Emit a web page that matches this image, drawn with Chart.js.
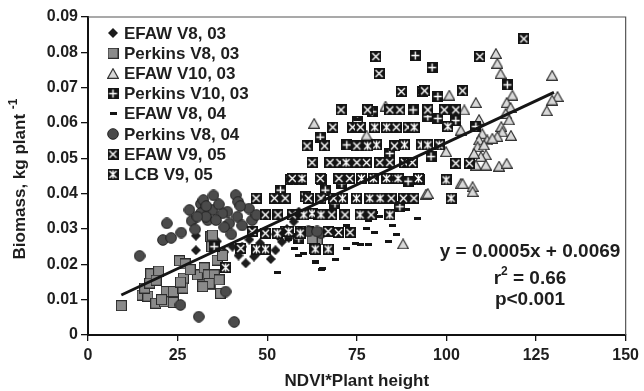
<!DOCTYPE html>
<html>
<head>
<meta charset="utf-8">
<script src="https://cdn.jsdelivr.net/npm/chart.js@4.4.1/dist/chart.umd.min.js"></script>
<style>
  html, body { margin: 0; padding: 0; background: #fff; }
  #wrap { width: 644px; height: 391px; }
</style>
</head>
<body>
<div id="wrap"><canvas id="biomassChart" width="644" height="391"></canvas></div>
<script>
// ---- data: [NDVI*height, biomass kg/plant] ----
const efawV8_03 = [[30.1,0.0281],[30.1,0.024],[44,0.0203],[46.3,0.0222],[54.1,0.0264],[57.4,0.0321],[58.8,0.0349],
  [52.3,0.024],[43,0.025],[40.3,0.025],[48,0.026],[50,0.0285],[55.5,0.030],[47.5,0.0235],[42,0.0225],[45,0.027],
  [38,0.0235],[36,0.0265],[51,0.0215],[56,0.0275],[60,0.034],[53,0.028]];

const perkinsV8_03 = [[9.3,0.0083],[15.1,0.0113],[16.7,0.011],[15.8,0.0133],[17.2,0.0147],[17.5,0.0173],[19.7,0.0181],
  [18.9,0.009],[21.3,0.0094],[21.8,0.0123],[23.8,0.0123],[23.8,0.0092],[20.5,0.010],[25.5,0.021],[27.1,0.0201],
  [26.6,0.0161],[26.5,0.0133],[25.8,0.015],[30.5,0.017],[31.9,0.0142],[32.4,0.019],[33.5,0.017],[34.3,0.0142],
  [34.3,0.0278],[34.5,0.025],[34.7,0.0283],[35.2,0.017],[33.8,0.0146],[36.6,0.0156],[32,0.0137],[37,0.0118],
  [36,0.0212],[37.5,0.0225],[63.9,0.0269],[62.5,0.0273],[28.5,0.0185],[19,0.0155]];

const efawV10_03 = [[83,0.0648],[63.1,0.0599],[77.7,0.0566],[94.3,0.0399],[87.9,0.0258],[113.8,0.0797],[114.2,0.0769],
  [115.1,0.074],[118.4,0.0679],[116.8,0.0658],[117.9,0.0644],[116.5,0.0627],[117.5,0.0609],[115.3,0.059],[115.6,0.0575],
  [114.2,0.0562],[108.2,0.0658],[100.8,0.0679],[105,0.0637],[104,0.058],[109.1,0.061],[110,0.057],[109.1,0.0552],
  [111.4,0.0552],[112.8,0.0557],[108.7,0.0533],[110.5,0.0538],[111,0.051],[109.6,0.0505],[107.7,0.0514],[108.2,0.0481],
  [111,0.0481],[114.7,0.0478],[116.8,0.0486],[104,0.0429],[107.3,0.042],[99.9,0.0519],[104.5,0.0429],[107.3,0.0406],
  [94.8,0.0401],[129.5,0.0735],[131,0.0675],[129.5,0.0665],[128,0.0635],[118,0.0565]];

const perkinsV10_03 = [[91.3,0.0791],[79.3,0.0632],[90.7,0.0637],[75.2,0.0604],[64.8,0.056],[72.2,0.0538],[84.2,0.0514],
  [70.8,0.0429],[89.3,0.0435],[66.2,0.041],[68.9,0.0372],[87,0.0363],[96,0.0757],[97.6,0.0675],[94.8,0.0618],
  [97.6,0.0613],[102.6,0.0607],[108.2,0.059],[95.7,0.0505],[117,0.0708],[35.2,0.025],[53.7,0.041],[58.8,0.0273]];

const efawV8_04 = [[53,0.0176],[58.8,0.0226],[63.4,0.0207],[65.4,0.0187],[75.2,0.0609],[80,0.0347],[81.4,0.0335],
  [78.2,0.0325],[88.8,0.0356],[66.2,0.0281],[77.7,0.0302],[74.5,0.026],[75.9,0.0255],[78.2,0.0255],[83.7,0.0266],
  [63.4,0.0205],[65.2,0.0186],[60,0.0232],[70,0.0285],[72,0.031],[56,0.027],[69,0.0215],[72,0.0245],[80,0.029],
  [85,0.031],[92,0.033],[62,0.0305],[67.5,0.0335],[57.5,0.0245],[86,0.0285]];

const perkinsV8_04 = [[14.4,0.0224],[22,0.0316],[20.9,0.0269],[23.2,0.0275],[26,0.029],[28.3,0.0354],[28.9,0.0323],
  [29.9,0.0299],[31.5,0.0371],[32.2,0.0382],[31.5,0.0345],[33.4,0.0325],[25.8,0.0085],[30.9,0.0052],[40.8,0.0037],
  [41.2,0.0396],[41.9,0.0377],[38.9,0.0349],[37.5,0.0344],[34.7,0.0354],[32.9,0.0335],[35.7,0.0325],[39.4,0.0316],
  [41.7,0.0335],[44.9,0.0358],[45.8,0.0325],[38.4,0.0123],[61.5,0.0293],[65,0.0288],[63.9,0.0293],[36.5,0.037],
  [38,0.0305],[43,0.031],[47,0.034],[40,0.0285],[42.5,0.0365],[35,0.0395],[33,0.0365],[30.5,0.0335]];

const efawV9_05 = [[62.5,0.0488],[56.5,0.0439],[59.7,0.0439],[65.2,0.0439],[46.9,0.0387],[60.6,0.0391],[49.5,0.034],
  [45.8,0.0293],[49.5,0.0288],[42.6,0.0245],[59.2,0.0293],[63.2,0.0245],[80.3,0.0788],[81.2,0.074],[87.4,0.0689],
  [93.4,0.0689],[70.6,0.0637],[84.2,0.0637],[87,0.0637],[68.3,0.0588],[73.8,0.0588],[89.3,0.0588],[61.1,0.0535],
  [67.5,0.0488],[70.3,0.0488],[77.7,0.0488],[81.4,0.0488],[84.2,0.0488],[88.3,0.0488],[64.8,0.0443],[86,0.0443],
  [61.5,0.0387],[84.6,0.0387],[90.9,0.0387],[64.3,0.034],[68,0.034],[71.7,0.034],[69.9,0.029],[73.1,0.029],
  [121.6,0.0838],[109.3,0.0788],[93.9,0.0691],[104.5,0.0691],[94.8,0.0637],[99.4,0.0637],[102.6,0.0637],
  [102.6,0.0486],[106.4,0.0486],[92.5,0.0439],[75,0.0488],[72.5,0.0488],[90.5,0.0488],[57,0.0443],[70,0.0443],
  [73,0.0443],[52,0.0387],[55,0.0387],[65,0.0387],[68.5,0.0387],[88,0.0387],[53,0.034],[57,0.034],[79,0.034],
  [67,0.0293],[55,0.0293],[76,0.0588],[86,0.0588],[78,0.0637],[75,0.0535],[85.5,0.0535],[66,0.0535]];

const lcbV9_05 = [[52.8,0.0288],[49.5,0.0243],[38.4,0.0191],[62.5,0.0344],[80,0.0588],[83.3,0.0588],[80.5,0.0538],
  [88.3,0.0538],[59.7,0.0443],[76.3,0.0443],[79.6,0.0443],[83.3,0.0443],[92.2,0.0443],[74.9,0.0387],[78.6,0.0387],
  [60.2,0.034],[75.9,0.034],[84.2,0.034],[59.2,0.0288],[63.4,0.0243],[100.4,0.059],[93,0.0538],[94.8,0.0538],
  [98,0.0538],[99.9,0.0439],[101.3,0.0387],[65,0.034],[72,0.0488],[86.5,0.0443],[71,0.0387],[81.5,0.0387],
  [56,0.0293],[47,0.0243],[67,0.0243],[78,0.0535],[91,0.0588]];

const seriesLabels = ['EFAW V8, 03', 'Perkins V8, 03', 'EFAW V10, 03', 'Perkins V10, 03',
  'EFAW V8, 04', 'Perkins V8, 04', 'EFAW V9, 05', 'LCB V9, 05'];

// fitted line (drawn slope, the printed equation is rounded)
const fitSlope = 0.000475;
const fitIntercept = 0.0069;
const fitRange = [9.3, 130];
const fitText = ['y = 0.0005x + 0.0069', 'r2 = 0.66', 'p<0.001'];

const xTicks = [0, 25, 50, 75, 100, 125, 150];
const yTicks = [0, 0.01, 0.02, 0.03, 0.04, 0.05, 0.06, 0.07, 0.08, 0.09];

const FONT = '"Liberation Sans", Arial, Helvetica, sans-serif';
const INK = '#1e1e1e';

// ---- marker images ----
function marker(w, h, draw) {
  const c = document.createElement('canvas');
  c.width = w; c.height = h;
  draw(c.getContext('2d'), w, h);
  return c;
}
function blackBox(g, w, h) {
  g.fillStyle = '#141414';
  g.fillRect(0, 0, w, h);
  g.strokeStyle = '#fff';
  g.lineWidth = 1.4;
}
const markers = [
  marker(10, 10, g => { // diamond
    g.fillStyle = '#1c1c1c';
    g.beginPath(); g.moveTo(5, 0); g.lineTo(10, 5); g.lineTo(5, 10); g.lineTo(0, 5); g.closePath(); g.fill();
  }),
  marker(11, 11, g => { // grey square
    g.fillStyle = '#8a8a8a'; g.fillRect(0, 0, 11, 11);
    g.strokeStyle = '#2b2b2b'; g.lineWidth = 1; g.strokeRect(0.5, 0.5, 10, 10);
  }),
  marker(12, 11, g => { // open triangle
    g.fillStyle = '#d9d9d9'; g.strokeStyle = '#333'; g.lineWidth = 1.2;
    g.beginPath(); g.moveTo(6, 0.8); g.lineTo(11.4, 10.4); g.lineTo(0.6, 10.4); g.closePath(); g.fill(); g.stroke();
  }),
  marker(11, 11, (g, w, h) => { // square with plus
    blackBox(g, w, h);
    g.beginPath(); g.moveTo(1.5, 5.5); g.lineTo(9.5, 5.5); g.moveTo(5.5, 1.5); g.lineTo(5.5, 9.5); g.stroke();
  }),
  marker(7, 3, g => { // dash
    g.fillStyle = '#141414'; g.fillRect(0, 0, 7, 3);
  }),
  marker(12, 12, g => { // dark circle
    g.fillStyle = '#4b4b4b'; g.strokeStyle = '#222'; g.lineWidth = 1;
    g.beginPath(); g.arc(6, 6, 5.3, 0, Math.PI * 2); g.fill(); g.stroke();
  }),
  marker(11, 11, (g, w, h) => { // square with X
    blackBox(g, w, h);
    g.beginPath(); g.moveTo(2, 2); g.lineTo(9, 9); g.moveTo(9, 2); g.lineTo(2, 9); g.stroke();
  }),
  marker(11, 11, (g, w, h) => { // square with asterisk
    blackBox(g, w, h);
    g.beginPath(); g.moveTo(2, 2); g.lineTo(9, 9); g.moveTo(9, 2); g.lineTo(2, 9);
    g.moveTo(5.5, 1.5); g.lineTo(5.5, 9.5); g.stroke();
  })
];

const seriesData = [efawV8_03, perkinsV8_03, efawV10_03, perkinsV10_03, efawV8_04, perkinsV8_04, efawV9_05, lcbV9_05];

const datasets = seriesData.map((arr, i) => ({
  label: seriesLabels[i],
  data: arr.map(p => ({ x: p[0], y: p[1] })),
  pointStyle: markers[i],
  pointRadius: 5,
  pointHoverRadius: 5,
  order: 10 - i
}));

datasets.push({
  label: 'fit',
  type: 'line',
  data: fitRange.map(x => ({ x: x, y: fitIntercept + fitSlope * x })),
  borderColor: '#151515',
  borderWidth: 3,
  pointRadius: 0,
  fill: false,
  order: 0
});

// ---- plugin: frame, in-plot legend, equation, axis titles ----
const decorations = {
  id: 'decorations',
  beforeDatasetsDraw(chart) {
    const { ctx, chartArea: a } = chart;
    ctx.save();
    ctx.strokeStyle = '#555';
    ctx.lineWidth = 1.2;
    ctx.beginPath();
    ctx.moveTo(a.left, a.top); ctx.lineTo(a.right, a.top); ctx.lineTo(a.right, a.bottom);
    ctx.stroke();
    ctx.restore();
  },
  afterDraw(chart) {
    const { ctx, chartArea: a } = chart;
    ctx.save();
    ctx.fillStyle = INK;
    // legend
    ctx.font = 'bold 17px ' + FONT;
    ctx.textBaseline = 'middle';
    ctx.textAlign = 'left';
    seriesLabels.forEach((lab, i) => {
      const y = 33 + i * 20.2;
      const m = markers[i];
      ctx.drawImage(m, 113 - m.width / 2, y - m.height / 2);
      ctx.fillText(lab, 124, y + 1);
    });
    // equation block
    const cx = 530;
    ctx.font = 'bold 19px ' + FONT;
    ctx.textAlign = 'center';
    ctx.fillText(fitText[0], cx, 252);
    // r^2 line with superscript
    const r = 'r', rest = ' = 0.66';
    ctx.font = 'bold 19px ' + FONT;
    const wr = ctx.measureText(r).width, wrest = ctx.measureText(rest).width;
    ctx.font = 'bold 12px ' + FONT;
    const w2 = ctx.measureText('2').width;
    let x0 = cx - (wr + w2 + wrest) / 2;
    ctx.textAlign = 'left';
    ctx.font = 'bold 19px ' + FONT;
    ctx.fillText(r, x0, 279);
    ctx.font = 'bold 12px ' + FONT;
    ctx.fillText('2', x0 + wr, 272);
    ctx.font = 'bold 19px ' + FONT;
    ctx.fillText(rest, x0 + wr + w2, 279);
    ctx.textAlign = 'center';
    ctx.fillText(fitText[2], cx, 300);
    // x title
    ctx.font = 'bold 17px ' + FONT;
    ctx.fillText('NDVI*Plant height', (a.left + a.right) / 2, a.bottom + 46);
    // y title, rotated, with superscript -1
    ctx.translate(20, (a.top + a.bottom) / 2 + 3);
    ctx.rotate(-Math.PI / 2);
    const main = 'Biomass, kg plant ';
    ctx.font = 'bold 17px ' + FONT;
    const wm = ctx.measureText(main).width;
    ctx.font = 'bold 12px ' + FONT;
    const ws = ctx.measureText('-1').width;
    const sx = -(wm + ws) / 2;
    ctx.textAlign = 'left';
    ctx.font = 'bold 17px ' + FONT;
    ctx.fillText(main, sx, 0);
    ctx.font = 'bold 12px ' + FONT;
    ctx.fillText('-1', sx + wm, -6);
    ctx.restore();
  }
};

new Chart(document.getElementById('biomassChart'), {
  type: 'scatter',
  data: { datasets: datasets },
  options: {
    responsive: false,
    animation: false,
    layout: { padding: { top: 17, right: 15, left: 0, bottom: 0 } },
    plugins: { legend: { display: false }, tooltip: { enabled: false } },
    scales: {
      x: {
        type: 'linear', min: 0, max: 150,
        afterBuildTicks: s => { s.ticks = xTicks.map(v => ({ value: v })); },
        afterFit: s => { s.height = 56; },
        border: { color: '#111', width: 2 },
        grid: { drawOnChartArea: false, tickLength: 6, color: '#111', lineWidth: 1.3 },
        ticks: { color: INK, padding: 5, font: { family: FONT, size: 16, weight: 'bold' } }
      },
      y: {
        type: 'linear', min: 0, max: 0.09,
        afterBuildTicks: s => { s.ticks = yTicks.map(v => ({ value: v })); },
        afterFit: s => { s.width = 88; },
        border: { color: '#111', width: 2 },
        grid: { drawOnChartArea: false, tickLength: 7, color: '#111', lineWidth: 1.3 },
        ticks: {
          color: INK, padding: 3, font: { family: FONT, size: 16, weight: 'bold' },
          callback: v => (v === 0 ? '0' : v.toFixed(2))
        }
      }
    }
  },
  plugins: [decorations]
});
</script>
</body>
</html>
